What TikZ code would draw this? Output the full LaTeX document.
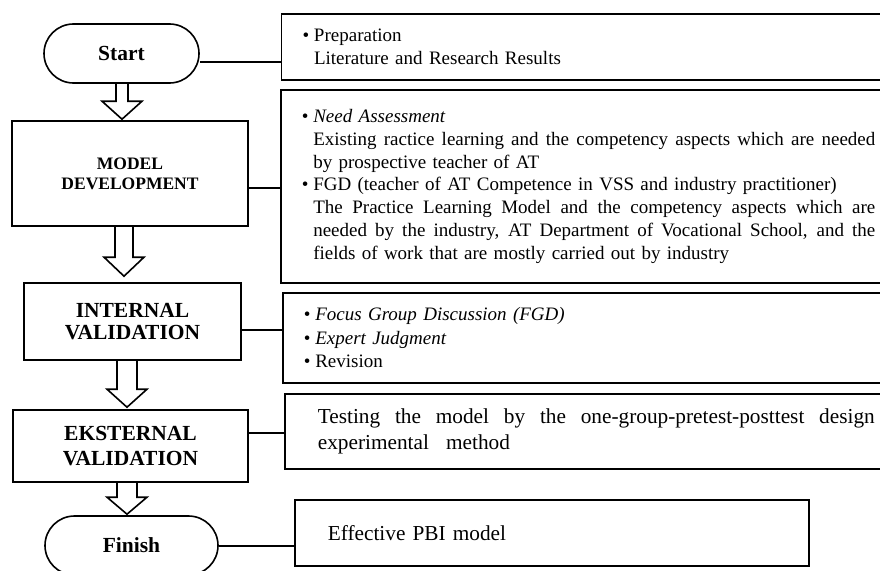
\documentclass[tikz,border=0pt]{standalone}
\usepackage{fontspec}
\setmainfont{Liberation Serif}
\usetikzlibrary{calc}
\newcommand{\bul}{\makebox[11.5pt][l]{\textbullet}}
\newcommand{\ind}{\hspace*{11.5pt}}
\newcommand{\jline}[2]{\makebox[#1][s]{\spaceskip=0pt\xspaceskip=0pt\relax #2}}
\newcommand{\blockarr}[6]{%
 \draw[blockarrow] let \p1=(#1.south), \p2=(#2.north) in
 ({(#3-#4)*1pt},\y1) -- ({(#3-#4)*1pt},{\y2+(#5+#6)*1pt}) -- ({(#3-20)*1pt},{\y2+(#5+#6)*1pt})
 -- ({#3*1pt},{\y2+#5*1pt}) -- ({(#3+20)*1pt},{\y2+(#5+#6)*1pt}) -- ({(#3+#4)*1pt},{\y2+(#5+#6)*1pt})
 -- ({(#3+#4)*1pt},\y1);}
\tikzset{
 lbox/.style={draw, line width=1.6pt, align=center, inner sep=0pt,
   font=\bfseries\fontsize{21.5}{22.6}\selectfont},
 term/.style={lbox, rounded corners=29.5pt},
 rbox/.style={draw, line width=1.6pt, anchor=north west, inner xsep=21pt, inner ysep=0pt,
   align=left, text width=600pt, font=\fontsize{19}{22.8}\selectfont},
 rbox2/.style={rbox, inner xsep=33pt, font=\fontsize{21.3}{26}\selectfont},
 link/.style={line width=2pt},
 blockarrow/.style={line width=1.6pt, line join=miter},
}
\begin{document}
\begin{tikzpicture}[x=1pt,y=-1pt]
\useasboundingbox (0,0) rectangle (880,570);
\clip (0,0) rectangle (880,570);
% left column
\node[term, minimum width=155pt, minimum height=59pt] (start) at (121.5,53.5) {Start};
\node[lbox, minimum width=236pt, minimum height=105pt,
  font=\bfseries\fontsize{17.5}{20}\selectfont] (md) at (130,173.5) {MODEL\\DEVELOPMENT};
\node[lbox, minimum width=217pt, minimum height=77pt] (iv) at (132.5,321.5) {INTERNAL\\VALIDATION};
\node[lbox, minimum width=235pt, minimum height=72pt,
  font=\bfseries\fontsize{21.5}{25.6}\selectfont] (ev) at (130.5,446) {EKSTERNAL\\VALIDATION};
\node[term, minimum width=173pt, minimum height=59pt] (fin) at (131.5,545.5) {Finish};
% right column
\node[rbox, minimum height=66pt] (prep) at (280.7,13)
  {\bul Preparation\\\ind Literature and Research Results};
\node[rbox, minimum height=193pt] (mdr) at (280,89)
  {\bul\textit{Need Assessment}\\
   \ind\jline{562pt}{Existing ractice learning and the competency aspects which are needed}\\
   \ind by prospective teacher of AT\\
   \bul FGD (teacher of AT Competence in VSS and industry practitioner)\\
   \ind\jline{562pt}{The Practice Learning Model and the competency aspects which are}\\
   \ind\jline{562pt}{needed by the industry, AT Department of Vocational School, and the}\\
   \ind fields of work that are mostly carried out by industry};
\node[rbox, minimum height=90pt, font=\fontsize{19}{23.4}\selectfont] (ivr) at (282,292)
  {\bul\textit{Focus Group Discussion (FGD)}\\
   \bul\textit{Expert Judgment}\\
   \bul Revision};
\node[rbox2, minimum height=75pt] (evr) at (284,393)
  {\jline{557pt}{Testing the model by the one-group-pretest-posttest design}\\
   experimental\hspace{10pt} method};
\node[rbox2, minimum height=66pt, text width=448pt] (finr) at (294,499) {Effective PBI model};
% block arrows
\blockarr{start}{md}{122}{6}{1}{18}
\blockarr{md}{iv}{124}{9}{6}{19}
\blockarr{iv}{ev}{127}{10}{2}{18}
\blockarr{ev}{fin}{127}{10}{1}{17}
% links
\coordinate (c1) at ([yshift=-8.5pt]start.east);
\draw[link] (c1) -- (c1 -| prep.west);
\coordinate (c2) at ([yshift=-14.5pt]md.east);
\draw[link] (c2) -- (c2 -| mdr.west);
\coordinate (c3) at ([yshift=-8.5pt]iv.east);
\draw[link] (c3) -- (c3 -| ivr.west);
\coordinate (c4) at ([yshift=13pt]ev.east);
\draw[link] (c4) -- (c4 -| evr.west);
\coordinate (c5) at (fin.east);
\draw[link] (c5) -- (c5 -| finr.west);
\end{tikzpicture}
\end{document}
